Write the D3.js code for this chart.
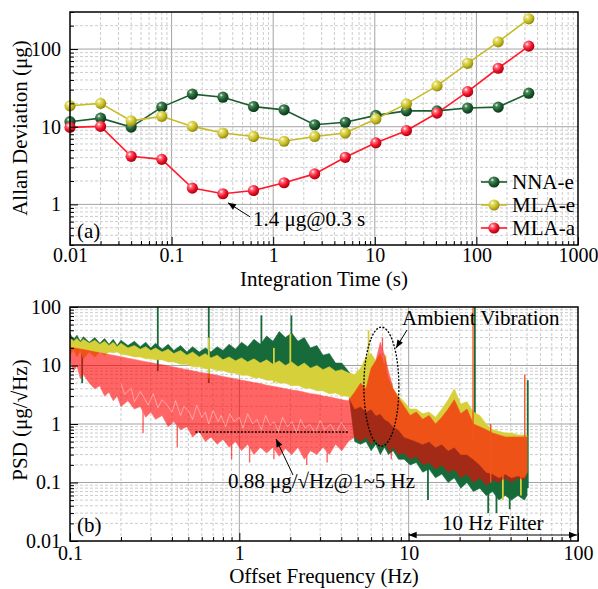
<!DOCTYPE html>
<html>
<head>
<meta charset="utf-8">
<script src="https://cdn.jsdelivr.net/npm/d3@7"></script>
<style>
  body { margin: 0; background: #fff; }
  text { font-family: "Liberation Serif", "Times New Roman", serif; fill: #000; }
</style>
</head>
<body>
<svg id="chart" width="598" height="589"></svg>
<script>
/* global d3 */

// ---- (a) Allan deviation ----
const tau = [0.01, 0.02, 0.04, 0.08, 0.16, 0.32, 0.64, 1.28, 2.56, 5.12, 10.24, 20.48, 40.96, 81.92, 163.84, 327.68];
const nnaE = [11.6, 12.9, 9.9, 17.9, 26.3, 24, 18.2, 16.5, 10.6, 11.4, 14, 16, 16, 17.4, 17.9, 27];
const mlaE = [18.6, 20, 11.9, 13.6, 10.1, 8.3, 7.5, 6.5, 7.5, 8.3, 12.6, 19.7, 33.6, 65.6, 124, 245];
const mlaA = [9.8, 10.1, 4.16, 3.8, 1.62, 1.37, 1.51, 1.9, 2.47, 4.04, 6.2, 8.9, 15, 28.3, 56.6, 109];
const seriesNames = ["NNA-e", "MLA-e", "MLA-a"];

// ---- (b) PSD, band envelopes ----
const psdFreq = [
  0.1, 0.105, 0.11, 0.115, 0.12, 0.13, 0.14, 0.15, 0.16, 0.17,
  0.18, 0.19, 0.2, 0.22, 0.24, 0.26, 0.28, 0.3, 0.32, 0.35,
  0.38, 0.41, 0.45, 0.49, 0.53, 0.58, 0.63, 0.68, 0.74, 0.8,
  0.87, 0.95, 1.03, 1.12, 1.22, 1.33, 1.45, 1.58, 1.72, 1.87,
  2.04, 2.22, 2.42, 2.63, 2.87, 3.12, 3.4, 3.7, 4.03, 4.4,
  4.8, 5.2, 5.6, 6.0, 6.4, 6.8, 7.2, 7.6, 8.1, 8.7,
  9.4, 10.2, 11.1, 12.1, 13.2, 14.4, 15.7, 17.1, 18.6, 20.3,
  22.1, 24.1, 26.3, 28.7, 31.3, 34.1, 37.2, 40.5, 44.2, 48.2,
  50
];
const nnaHi = [
  35, 28, 33, 26, 31, 25, 30, 24, 29, 23,
  28, 22, 27, 22, 26, 21, 25, 20, 24, 19,
  23, 18, 22, 17, 21, 17, 20, 17, 21, 18,
  23, 19, 25, 21, 28, 23, 32, 26, 38, 30,
  36, 26, 30, 20, 22, 15, 16, 11, 11, 8,
  6, 6, 5, 5, 4, 4, 3.5, 3, 2.6, 2.2,
  1.8, 1.5, 1.3, 1.2, 1.1, 1.0, 1.1, 1.2, 1.4, 1.0,
  0.9, 0.7, 0.6, 0.5, 0.5, 0.45, 0.45, 0.45, 0.4, 0.4,
  0.4
];
const nnaLo = [
  20, 23, 21, 22, 20, 21, 19, 20, 18, 19,
  17, 18, 16, 16, 15, 15, 14, 14, 13, 13,
  12, 12, 11, 11, 10, 10, 9.5, 9.5, 9, 9,
  8.5, 8.5, 8, 8, 7.5, 7.5, 7, 7, 6.5, 6.5,
  6, 6, 5.5, 5.5, 5, 5, 4.5, 4.5, 4, 4,
  0.5, 0.45, 0.5, 0.35, 0.45, 0.3, 0.4, 0.3, 0.35, 0.25,
  0.25, 0.2, 0.22, 0.15, 0.17, 0.12, 0.14, 0.1, 0.12, 0.08,
  0.1, 0.07, 0.08, 0.06, 0.07, 0.05, 0.06, 0.05, 0.06, 0.05,
  0.06
];
const mlaeHi = [
  30, 26, 29, 25, 28, 24, 27, 23, 26, 22,
  25, 21, 24, 20, 22, 19, 21, 18, 20, 17,
  19, 16, 18, 15, 17, 14, 16, 13.5, 15, 12.5,
  14, 12, 13.5, 11.5, 13, 11, 12.5, 10.5, 12, 10,
  11.5, 9.5, 11, 9, 10, 8.5, 9.5, 8, 8.5, 7.5,
  7, 9, 14, 16, 12, 16, 10, 6, 4, 3,
  2.4, 1.8, 1.8, 1.5, 1.6, 1.3, 1.8, 2.6, 4, 2.2,
  2.4, 1.6, 1.4, 1.0, 0.8, 0.75, 0.7, 0.7, 0.65, 0.65,
  0.65
];
const mlaeLo = [
  15, 19, 14, 18, 13, 17, 14, 17, 15, 17,
  16.5, 17, 15.5, 15, 14, 14, 13, 13, 12.5, 12.5,
  11.5, 11.5, 10.5, 10.5, 9.5, 9.5, 8.8, 9, 8.2, 8.2,
  7.5, 7.4, 6.8, 6.8, 6.2, 6.2, 5.6, 5.6, 5.0, 5.0,
  4.5, 4.6, 4.1, 4.1, 3.7, 3.7, 3.3, 3.4, 3.0, 3.0,
  1.8, 2, 1.6, 1.8, 1.4, 1.5, 1.2, 1.1, 0.9, 0.8,
  0.6, 0.55, 0.5, 0.45, 0.5, 0.4, 0.45, 0.35, 0.4, 0.3,
  0.3, 0.25, 0.2, 0.15, 0.14, 0.12, 0.14, 0.12, 0.13, 0.12,
  0.15
];
const mlaaHi = [
  20.7, 20.1, 19.6, 19.1, 18.7, 17.9, 17.1, 16.5, 15.9, 15.4,
  14.9, 14.5, 14.1, 13.3, 12.7, 12.1, 11.6, 11.2, 10.8, 10.3,
  9.8, 9.4, 8.9, 8.5, 8.1, 7.7, 7.4, 7.1, 6.8, 6.5,
  6.2, 5.9, 5.6, 5.4, 5.1, 4.9, 4.6, 4.4, 4.2, 4.0,
  3.8, 3.7, 3.5, 3.3, 3.2, 3.0, 2.9, 2.75, 2.6, 2.5,
  3.5, 5, 4, 9, 12, 25, 15, 8, 4, 2.8,
  2, 1.4, 1.6, 1.2, 1.4, 1.0, 1.3, 1.8, 2.6, 1.5,
  1.8, 1.0, 0.9, 0.8, 0.7, 0.65, 0.6, 0.6, 0.6, 0.6,
  0.6
];
const mlaaLo = [
  12, 8, 10, 6, 7, 5, 4, 4.5, 3, 3.5,
  2.5, 3, 2, 2.5, 1.8, 2, 1.3, 1.6, 1.2, 1.4,
  0.9, 1.1, 0.8, 0.9, 0.6, 0.75, 0.5, 0.6, 0.45, 0.55,
  0.4, 0.5, 0.35, 0.45, 0.3, 0.4, 0.32, 0.4, 0.28, 0.38,
  0.3, 0.4, 0.25, 0.35, 0.3, 0.4, 0.3, 0.45, 0.35, 0.5,
  0.6, 0.5, 0.6, 0.45, 0.55, 0.4, 0.5, 0.35, 0.4, 0.3,
  0.32, 0.25, 0.28, 0.2, 0.22, 0.17, 0.2, 0.15, 0.17, 0.12,
  0.14, 0.1, 0.12, 0.09, 0.11, 0.1, 0.12, 0.1, 0.12, 0.11,
  0.15
];
// lighter streak inside the MLA-a band: [frequency, value]
const mlaaStreak = [
  [0.2, 5], [0.21, 3.2], [0.23, 4.1], [0.24, 2.4], [0.26, 3.6], [0.27, 3.0], [0.29, 2.1], [0.31, 3.3],
  [0.33, 1.9], [0.35, 2.6], [0.37, 2.2], [0.4, 1.6], [0.42, 2.5], [0.45, 1.4], [0.47, 2.0], [0.5, 1.7],
  [0.53, 1.2], [0.56, 2.1], [0.6, 1.3], [0.63, 1.6], [0.66, 1.0], [0.7, 1.7], [0.75, 1.1], [0.78, 1.4],
  [0.83, 0.9], [0.88, 1.5], [0.93, 1.1], [1.0, 1.3], [1.05, 0.85], [1.12, 1.5], [1.2, 1.0], [1.27, 1.2],
  [1.35, 0.8], [1.43, 1.4], [1.52, 0.95], [1.6, 1.1], [1.7, 0.75], [1.8, 1.3], [1.92, 0.9], [2.05, 1.1],
  [2.18, 0.7], [2.3, 1.2], [2.45, 0.85], [2.6, 1.0], [2.8, 0.7], [3.0, 1.15], [3.2, 0.8], [3.45, 1.0],
  [3.7, 0.7], [4.0, 1.05], [4.35, 0.75]
];
// spikes: [frequency, low, high]
const nnaSpikes = [[0.118, 5, 22], [0.33, 8, 100], [0.66, 5, 100], [1.35, 15, 72], [2.03, 12, 72],
  [24.6, 0.3, 100], [50.5, 0.08, 5.6], [13.0, 0.05, 0.4], [29.5, 0.03, 0.3], [33.0, 0.03, 0.2], [39.5, 0.035, 0.3]];
const mlaeSpikes = [[0.66, 6, 30], [2.0, 5, 35], [1.6, 5, 20], [5.8, 5, 40], [7.3, 3, 15], [36, 0.05, 0.3], [46, 0.06, 0.3]];
const mlaaSpikes = [[0.27, 0.7, 3], [0.43, 0.4, 2], [0.9, 0.25, 1], [1.15, 0.22, 1], [1.6, 0.25, 1],
  [2.5, 0.2, 1], [3.3, 0.22, 1], [7.0, 2, 30], [7.9, 0.25, 1]];
const mlaaLines = [[24.0, 0.5, 100], [48.5, 0.5, 7], [30.5, 0.1, 1]];
const floorLevel = 0.73;      // dotted line level (1~5 Hz)
const floorRange = [0.55, 4.4];

var svg = d3.select( "#chart" );
var defs = svg.append( "defs" );

var isMajor = function( v ) { return Math.abs( Math.log10( v ) - Math.round( Math.log10( v ) ) ) < 1e-6; };
var fmt = d3.format( "~g" );

// Sphere-like gradients for the markers
function ballGradient( id, light, base, dark ) {
  var gr = defs.append( "radialGradient" ).attr( "id", id )
    .attr( "cx", "35%" ).attr( "cy", "32%" ).attr( "r", "70%" );
  gr.append( "stop" ).attr( "offset", "0%" ).attr( "stop-color", "#ffffff" );
  gr.append( "stop" ).attr( "offset", "22%" ).attr( "stop-color", light );
  gr.append( "stop" ).attr( "offset", "60%" ).attr( "stop-color", base );
  gr.append( "stop" ).attr( "offset", "100%" ).attr( "stop-color", dark );
}
ballGradient( "ballG", "#4f8a5e", "#1d5e31", "#0b3519" );
ballGradient( "ballY", "#e6df70", "#c8bf28", "#8f8710" );
ballGradient( "ballR", "#ff7080", "#f0142a", "#a8000e" );

defs.append( "marker" ).attr( "id", "arrow" )
  .attr( "viewBox", "0 0 10 10" ).attr( "refX", 10 ).attr( "refY", 5 )
  .attr( "markerWidth", 12 ).attr( "markerHeight", 8 )
  .attr( "orient", "auto-start-reverse" )
  .append( "path" ).attr( "d", "M0,1 L10,5 L0,9 Z" ).attr( "fill", "#000" );

// Grid, frame and axes for one log-log panel
function drawPanel( x, y, xPad ) {
  var g = svg.append( "g" );
  var x0 = x.range()[ 0 ], x1 = x.range()[ 1 ], y0 = y.range()[ 0 ], y1 = y.range()[ 1 ];
  var xt = x.ticks().filter( d => x( d ) > x0 + 0.5 && x( d ) < x1 - 0.5 );
  var yt = y.ticks().filter( d => y( d ) < y0 - 0.5 && y( d ) > y1 + 0.5 );

  g.selectAll( ".vgrid" ).data( xt ).enter().append( "line" )
    .attr( "x1", d => x( d ) ).attr( "x2", d => x( d ) )
    .attr( "y1", y0 ).attr( "y2", y1 )
    .style( "stroke", d => isMajor( d ) ? "#a3a3a3" : "#cdcdcd" )
    .style( "stroke-width", 1 )
    .style( "stroke-dasharray", d => isMajor( d ) ? null : "3,2" );

  g.selectAll( ".hgrid" ).data( yt ).enter().append( "line" )
    .attr( "y1", d => y( d ) ).attr( "y2", d => y( d ) )
    .attr( "x1", x0 ).attr( "x2", x1 )
    .style( "stroke", d => isMajor( d ) ? "#a3a3a3" : "#cdcdcd" )
    .style( "stroke-width", 1 )
    .style( "stroke-dasharray", d => isMajor( d ) ? null : "3,2" );

  return {
    g: g,
    finish: function() {
      var f = svg.append( "g" );
      f.append( "rect" )
        .attr( "x", x0 ).attr( "y", y1 )
        .attr( "width", x1 - x0 ).attr( "height", y0 - y1 )
        .style( "fill", "none" ).style( "stroke", "#000" ).style( "stroke-width", 1.5 );

      var ax = d3.axisBottom( x ).tickValues( x.ticks() ).tickSizeInner( -8 ).tickSizeOuter( 0 )
        .tickPadding( xPad ).tickFormat( d => isMajor( d ) ? fmt( d ) : "" );
      f.append( "g" ).attr( "transform", "translate(0," + y0 + ")" ).call( ax )
        .attr( "font-size", 20 )
        .call( s => s.select( ".domain" ).remove() )
        .call( s => s.selectAll( ".tick line" ).attr( "y2", d => isMajor( d ) ? -8 : -4 ).attr( "stroke", "#000" ) );

      var ay = d3.axisLeft( y ).tickValues( y.ticks() ).tickSizeInner( -8 ).tickSizeOuter( 0 )
        .tickPadding( 9 ).tickFormat( d => isMajor( d ) ? fmt( d ) : "" );
      f.append( "g" ).attr( "transform", "translate(" + x0 + ",0)" ).call( ay )
        .attr( "font-size", 20 )
        .call( s => s.select( ".domain" ).remove() )
        .call( s => s.selectAll( ".tick line" ).attr( "x2", d => isMajor( d ) ? 8 : 4 ).attr( "stroke", "#000" ) );
      return f;
    }
  };
}

// ================= Panel (a) =================
var xA = d3.scaleLog().domain( [ 0.01, 1000 ] ).range( [ 70, 578 ] );
var yA = d3.scaleLog().domain( [ 0.3, 300 ] ).range( [ 245, 12 ] );
var pA = drawPanel( xA, yA, 3 );

var adev = [
  { name: seriesNames[ 0 ], values: nnaE, color: "#1b5c30", ball: "url(#ballG)" },
  { name: seriesNames[ 1 ], values: mlaE, color: "#c6bc26", ball: "url(#ballY)" },
  { name: seriesNames[ 2 ], values: mlaA, color: "#ff1a2e", ball: "url(#ballR)" }
];

var lineA = d3.line().x( ( d, i ) => xA( tau[ i ] ) ).y( d => yA( d ) );

adev.forEach( function( s ) {
  pA.g.append( "path" ).datum( s.values )
    .attr( "d", lineA )
    .style( "fill", "none" ).style( "stroke", s.color ).style( "stroke-width", 1.6 );
} );
adev.forEach( function( s ) {
  pA.g.selectAll( null ).data( s.values ).enter().append( "circle" )
    .attr( "cx", ( d, i ) => xA( tau[ i ] ) )
    .attr( "cy", d => yA( d ) )
    .attr( "r", 5.6 )
    .style( "fill", s.ball );
} );

pA.finish();

// legend
var leg = svg.append( "g" ).attr( "transform", "translate(481,182)" );
adev.forEach( function( s, i ) {
  var row = leg.append( "g" ).attr( "transform", "translate(0," + ( i * 23 ) + ")" );
  row.append( "line" ).attr( "x1", 0 ).attr( "x2", 26 ).attr( "y1", 0 ).attr( "y2", 0 )
    .style( "stroke", s.color ).style( "stroke-width", 1.6 );
  row.append( "circle" ).attr( "cx", 13 ).attr( "cy", 0 ).attr( "r", 5.6 ).style( "fill", s.ball );
  row.append( "text" ).attr( "x", 31 ).attr( "y", 7 ).style( "font-size", "21px" ).text( s.name );
} );

// annotation (a)
var tipA = [ xA( 0.32 ) + 5, yA( 1.37 ) + 9 ];
svg.append( "line" )
  .attr( "x1", tipA[ 0 ] + 22 ).attr( "y1", tipA[ 1 ] + 14 )
  .attr( "x2", tipA[ 0 ] ).attr( "y2", tipA[ 1 ] )
  .style( "stroke", "#000" ).style( "stroke-width", 1 )
  .attr( "marker-end", "url(#arrow)" );
svg.append( "text" ).attr( "x", 253 ).attr( "y", 226 ).style( "font-size", "21px" ).text( "1.4 μg@0.3 s" );
svg.append( "text" ).attr( "x", 77 ).attr( "y", 238 ).style( "font-size", "21px" ).text( "(a)" );

svg.append( "text" ).attr( "x", 324 ).attr( "y", 286 ).attr( "text-anchor", "middle" )
  .style( "font-size", "21px" ).text( "Integration Time (s)" );
svg.append( "text" ).attr( "transform", "translate(27,128) rotate(-90)" ).attr( "text-anchor", "middle" )
  .style( "font-size", "21px" ).text( "Allan Deviation (μg)" );

// ================= Panel (b) =================
var xB = d3.scaleLog().domain( [ 0.1, 100 ] ).range( [ 70, 578 ] );
var yB = d3.scaleLog().domain( [ 0.01, 100 ] ).range( [ 541, 307 ] );
var pB = drawPanel( xB, yB, 5 );

defs.append( "clipPath" ).attr( "id", "clipB" ).append( "rect" )
  .attr( "x", 70 ).attr( "y", 307 ).attr( "width", 508 ).attr( "height", 234 );

var dataB = pB.g.append( "g" ).attr( "clip-path", "url(#clipB)" );

var band = d3.area()
  .x( ( d, i ) => xB( psdFreq[ i ] ) )
  .y0( d => yB( d[ 1 ] ) )
  .y1( d => yB( d[ 0 ] ) );

function drawPsd( parent, hi, lo, spikes, color, width ) {
  parent.append( "path" ).datum( hi.map( ( v, i ) => [ v, lo[ i ] ] ) )
    .attr( "d", band )
    .style( "fill", color ).style( "stroke", color ).style( "stroke-width", 0.6 );
  parent.selectAll( null ).data( spikes ).enter().append( "line" )
    .attr( "x1", d => xB( d[ 0 ] ) ).attr( "x2", d => xB( d[ 0 ] ) )
    .attr( "y1", d => yB( d[ 1 ] ) ).attr( "y2", d => yB( d[ 2 ] ) )
    .style( "stroke", color ).style( "stroke-width", width );
}

drawPsd( dataB, nnaHi, nnaLo, nnaSpikes, "#176a39", 1.8 );
drawPsd( dataB, mlaeHi, mlaeLo, mlaeSpikes, "#d6d03a", 1.8 );
var redG = dataB.append( "g" ).style( "opacity", 0.6 );
drawPsd( redG, mlaaHi, mlaaLo, mlaaSpikes, "#ff0000", 1.4 );
dataB.append( "path" ).datum( mlaaStreak )
  .attr( "d", d3.line().x( d => xB( d[ 0 ] ) ).y( d => yB( d[ 1 ] ) ) )
  .style( "fill", "none" ).style( "stroke", "#ffffff" ).style( "stroke-opacity", 0.4 ).style( "stroke-width", 1 );
dataB.selectAll( null ).data( mlaaLines ).enter().append( "line" )
  .attr( "x1", d => xB( d[ 0 ] ) ).attr( "x2", d => xB( d[ 0 ] ) )
  .attr( "y1", d => yB( d[ 1 ] ) ).attr( "y2", d => yB( d[ 2 ] ) )
  .style( "stroke", "#f2561d" ).style( "stroke-width", 1.4 );

pB.finish();

// noise floor marker
svg.append( "line" )
  .attr( "x1", xB( floorRange[ 0 ] ) ).attr( "x2", xB( floorRange[ 1 ] ) )
  .attr( "y1", yB( floorLevel ) ).attr( "y2", yB( floorLevel ) )
  .style( "stroke", "#000" ).style( "stroke-width", 1.3 ).style( "stroke-dasharray", "2,1.5" );
svg.append( "line" )
  .attr( "x1", 293 ).attr( "y1", 475 ).attr( "x2", 276 ).attr( "y2", 439 )
  .style( "stroke", "#000" ).style( "stroke-width", 1 )
  .attr( "marker-end", "url(#arrow)" );
svg.append( "text" ).attr( "x", 228 ).attr( "y", 488 ).style( "font-size", "21px" ).text( "0.88 μg/√Hz@1~5 Hz" );

// ambient vibration
svg.append( "ellipse" )
  .attr( "cx", xB( 6.9 ) ).attr( "cy", yB( 4.35 ) )
  .attr( "rx", 17.5 ).attr( "ry", 59.5 )
  .style( "fill", "none" ).style( "stroke", "#000" ).style( "stroke-width", 1.3 )
  .style( "stroke-dasharray", "2,1.5" );
svg.append( "line" )
  .attr( "x1", 407 ).attr( "y1", 330 ).attr( "x2", 396 ).attr( "y2", 348 )
  .style( "stroke", "#000" ).style( "stroke-width", 1 )
  .attr( "marker-end", "url(#arrow)" );
svg.append( "text" ).attr( "x", 402 ).attr( "y", 325 ).style( "font-size", "21px" ).text( "Ambient Vibration" );

// 10 Hz filter
svg.append( "line" )
  .attr( "x1", xB( 10 ) ).attr( "x2", xB( 100 ) - 1 ).attr( "y1", 535 ).attr( "y2", 535 )
  .style( "stroke", "#000" ).style( "stroke-width", 1 )
  .attr( "marker-start", "url(#arrow)" ).attr( "marker-end", "url(#arrow)" );
svg.append( "text" ).attr( "x", 442 ).attr( "y", 530 ).style( "font-size", "21px" ).text( "10 Hz Filter" );
svg.append( "text" ).attr( "x", 77 ).attr( "y", 532 ).style( "font-size", "21px" ).text( "(b)" );

svg.append( "text" ).attr( "x", 324 ).attr( "y", 583 ).attr( "text-anchor", "middle" )
  .style( "font-size", "21px" ).text( "Offset Frequency (Hz)" );
svg.append( "text" ).attr( "transform", "translate(27,420) rotate(-90)" ).attr( "text-anchor", "middle" )
  .style( "font-size", "21px" ).text( "PSD (μg/√Hz)" );
</script>
</body>
</html>
